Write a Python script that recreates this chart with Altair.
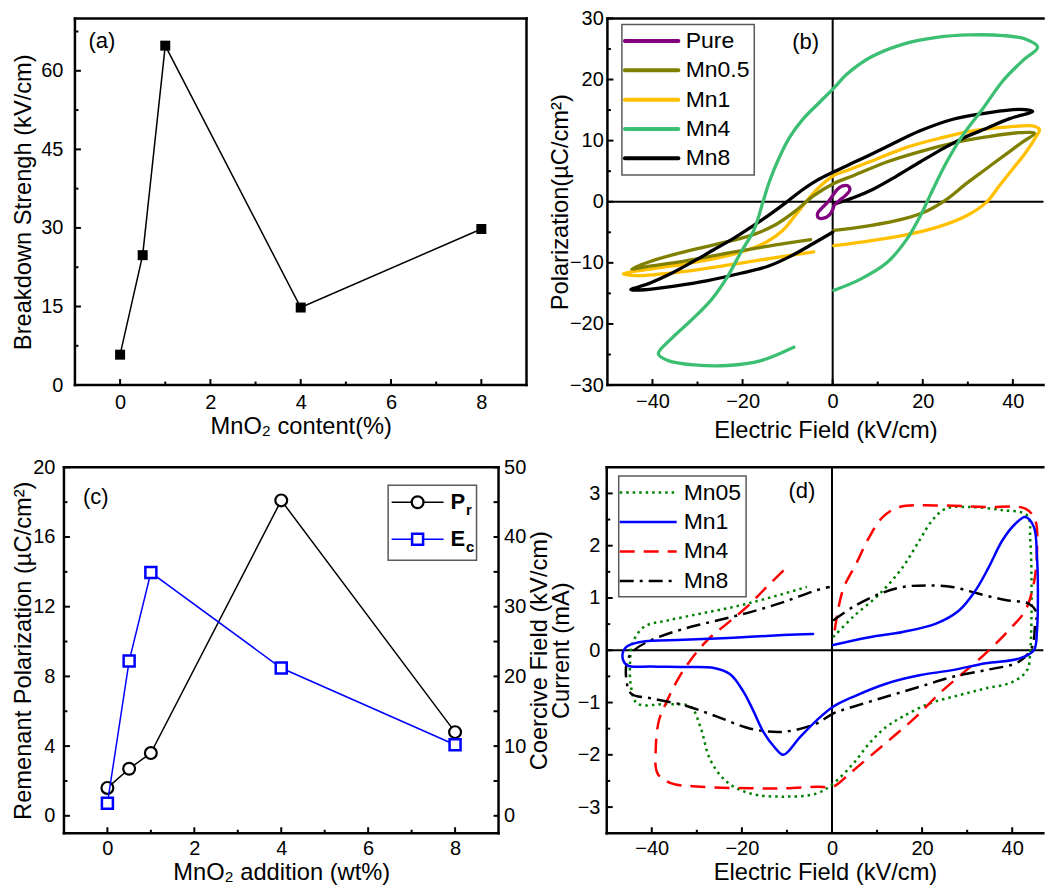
import altair as alt
import pandas as pd

FONT = "Liberation Sans"
LAB = 20
TIT = 23.7
LEG = 23

# ---------------- (a) breakdown strength ----------------
A_MNO2 = [0, 0.5, 1, 4, 8]
A_BDS = [5.8, 24.8, 64.8, 14.8, 29.8]

# ---------------- (b) P-E loops ----------------
B_NAMES = ["Pure", "Mn0.5", "Mn1", "Mn4", "Mn8"]
B_COLORS = ["#800080", "#808000", "#FFC000", "#3CBF72", "#000000"]

PURE_E = [0.3, 1.5, 2.8, 3.8, 3.4, 2.2, 1.0, 0.0, -1.0, -2.2, -3.3, -3.2, -2.0, -0.8, 0.0, 0.3]
PURE_P = [-0.6, 0.2, 1.0, 1.9, 2.6, 2.6, 2.0, 1.0, 0.0, -0.9, -1.8, -2.6, -2.7, -2.2, -1.3, -0.6]

MN05_E = [0.25, 8.3, 15.7, 20.9, 25.3, 29.7, 34.1, 38.5, 42.2, 44.8, 41.5, 34.1, 26.7, 19.4, 12.0,
          4.7, 0.25, -4.2, -8.6, -13.0, -18.1, -25.5, -32.9, -40.2, -44.6, -40.2, -32.9, -21.8, -13.0, -4.9]
MN05_P = [-4.7, -3.9, -2.8, -1.5, 0.4, 3.0, 5.4, 7.8, 9.8, 11.2, 11.3, 10.6, 9.6, 8.2, 6.5,
          4.3, 3.0, 1.0, -1.7, -3.9, -5.5, -6.9, -8.2, -9.7, -11.0, -10.5, -9.7, -8.2, -7.1, -6.2]

MN1_E = [0.25, 8.3, 15.7, 23.1, 29.7, 34.1, 37.0, 40.0, 42.9, 45.1, 45.9, 44.4, 38.5, 31.1, 23.8, 16.4,
         9.1, 3.2, 0.25, -3.4, -6.0, -8.6, -11.1, -14.5, -18.9, -25.5, -32.9, -40.2, -46.5, -43.9,
         -32.9, -21.8, -12.3, -4.2]
MN1_P = [-7.2, -6.4, -5.5, -4.2, -2.3, -0.1, 2.6, 5.4, 8.1, 10.6, 11.8, 12.4, 12.2, 11.6, 10.4, 8.9,
         6.8, 5.1, 4.3, 2.1, -0.1, -2.5, -4.7, -6.5, -7.9, -9.2, -10.2, -11.0, -11.8, -12.1,
         -11.4, -10.2, -9.1, -8.2]

MN4_E = [0.25, 6.1, 12.0, 16.4, 19.4, 21.6, 25.3, 28.9, 33.4, 37.8, 42.2, 45.5, 42.9, 37.8, 30.4, 23.1,
         15.7, 8.3, 3.2, 0.25, -3.0, -6.5, -9.5, -12.0, -14.0, -15.5, -17.4, -20.4, -23.3, -27.0,
         -31.4, -35.8, -38.7, -36.5, -30.7, -23.3, -15.9, -8.6]
MN4_P = [-14.5, -12.7, -10.0, -6.2, -2.4, 1.0, 6.5, 10.9, 15.3, 19.8, 23.1, 25.3, 26.6, 27.2, 27.3, 26.9,
         25.8, 23.6, 20.9, 18.6, 16.2, 13.6, 10.6, 7.0, 3.4, -0.1, -4.5, -8.3, -12.2, -16.1,
         -19.4, -22.4, -24.9, -26.0, -26.7, -26.8, -26.0, -23.8]

MN8_E = [0.25, 4.7, 9.1, 14.2, 19.4, 24.5, 28.9, 34.1, 39.3, 44.4, 41.5, 34.1, 26.7, 19.4, 12.0, 6.1,
         0.25, -3.5, -7.0, -10.3, -14.0, -18.0, -22.0, -26.5, -31.0, -36.0, -40.5, -44.8, -41.7,
         -35.1, -27.7, -20.4, -14.5, -9.3, -4.2, 0.0]
MN8_P = [-0.4, 0.7, 2.1, 4.2, 6.5, 8.7, 10.4, 12.0, 13.6, 14.8, 15.1, 14.5, 13.5, 11.6, 9.0, 6.9,
         4.9, 3.5, 1.8, -0.1, -2.1, -4.1, -6.0, -7.9, -9.8, -11.8, -13.3, -14.4, -14.4,
         -13.8, -12.9, -11.7, -10.6, -8.9, -6.8, -5.0]

# ---------------- (c) Pr and Ec ----------------
C_MNO2 = [0, 0.5, 1, 4, 8]
C_PR = [1.6, 2.7, 3.6, 18.1, 4.8]
C_EC = [1.8, 22.2, 34.9, 21.2, 10.2]

# ---------------- (d) I-E loops ----------------
D_NAMES = ["Mn05", "Mn1", "Mn4", "Mn8"]
D_COLORS = ["#008000", "#0000FF", "#FF0000", "#000000"]

D05_E = [0.25, 4.7, 10.6, 15.7, 19.4, 22.3, 25.3, 30.4, 37.8, 43.3, 44.0, 44.3, 44.0, 43.3, 40.0, 34.1,
         28.2, 21.6, 15.7, 12.0, 8.3, 4.7, 0.25, -3.4, -10.8, -18.1, -23.3, -27.0, -29.2, -31.4,
         -36.5, -43.2, -44.6, -44.8, -44.3, -41.7, -36.5, -29.2, -21.8, -14.5, -5.6]
D05_I = [0.25, 0.64, 1.08, 1.59, 2.10, 2.49, 2.71, 2.74, 2.68, 2.58, 2.10, 1.15, 0.0, -0.38, -0.61, -0.73,
         -0.86, -1.02, -1.27, -1.47, -1.78, -2.17, -2.55, -2.74, -2.80, -2.74, -2.52, -2.10, -1.47, -1.08,
         -1.03, -1.02, -0.70, -0.19, 0.13, 0.45, 0.57, 0.70, 0.83, 0.99, 1.21]

D1_E = [0.25, 8.3, 15.7, 23.1, 28.2, 31.9, 34.8, 37.8, 40.7, 42.9, 44.8, 45.5, 45.7, 45.5, 44.8, 41.5,
        34.1, 26.7, 19.4, 12.0, 4.7, 0.25, -3.4, -7.1, -10.8, -12.8, -15.3, -17.5, -19.6, -22.6,
        -26.2, -32.9, -40.2, -45.4, -46.5, -45.7, -42.4, -32.9, -21.8, -10.8, -4.2]
D1_I = [0.10, 0.25, 0.35, 0.51, 0.76, 1.15, 1.59, 2.10, 2.42, 2.55, 2.36, 1.78, 1.15, 0.38, 0.0, -0.16,
        -0.25, -0.38, -0.48, -0.64, -0.89, -1.08, -1.34, -1.66, -2.0, -1.85, -1.55, -1.15, -0.8, -0.46,
        -0.34, -0.32, -0.31, -0.29, -0.13, 0.06, 0.16, 0.20, 0.24, 0.29, 0.31]

D4_E = [0.6, 2.4, 5.4, 8.3, 11.3, 15.0, 23.1, 34.1, 42.9, 45.1, 45.5, 44.8, 42.9, 39.2, 34.1, 28.9,
        23.8, 18.7, 13.5, 8.3, 3.9, 0.25, -3.4, -10.8, -18.1, -29.2, -35.8, -38.7, -39.1, -38.4,
        -36.9, -34.3, -31.4, -27.7, -23.3, -18.9, -14.5, -10.0]
D4_I = [0.38, 1.15, 1.66, 2.17, 2.55, 2.74, 2.77, 2.74, 2.71, 2.49, 1.91, 1.28, 0.76, 0.38, -0.06, -0.45,
        -0.83, -1.27, -1.66, -2.04, -2.36, -2.61, -2.61, -2.64, -2.64, -2.61, -2.54, -2.36, -1.85, -1.34,
        -1.02, -0.57, -0.19, 0.19, 0.51, 0.83, 1.21, 1.59]

D8_E = [0.25, 4.7, 10.6, 15.7, 20.9, 26.7, 32.6, 38.5, 43.7, 45.5, 45.1, 44.4, 41.5, 34.1, 26.7, 19.4,
        12.0, 4.7, 0.25, -3.4, -10.8, -18.1, -25.5, -32.9, -40.2, -44.6, -45.7, -45.4, -43.9,
        -40.2, -32.9, -25.5, -18.1, -10.8, -3.4, -0.5]
D8_I = [0.57, 0.83, 1.08, 1.21, 1.24, 1.21, 1.08, 0.96, 0.89, 0.70, 0.51, 0.06, -0.22, -0.38, -0.51, -0.70,
        -0.89, -1.08, -1.21, -1.40, -1.56, -1.50, -1.27, -1.05, -0.92, -0.83, -0.51, -0.19, 0.0,
        0.19, 0.41, 0.57, 0.73, 0.92, 1.15, 1.21]

# ---------------- tick values ----------------
A_XT, A_XM = [0, 2, 4, 6, 8], [1, 3, 5, 7]
A_YT, A_YM = [0, 15, 30, 45, 60], [7.5, 22.5, 37.5, 52.5, 67.5]
EF_T, EF_M = [-40, -20, 0, 20, 40], [-30, -10, 10, 30]
B_YT, B_YM = [-30, -20, -10, 0, 10, 20, 30], [-25, -15, -5, 5, 15, 25]
C_YT, C_YM = [0, 4, 8, 12, 16, 20], [2, 6, 10, 14, 18]
C_Y2T, C_Y2M = [0, 10, 20, 30, 40, 50], [5, 15, 25, 35, 45]
D_YT, D_YM = [-3, -2, -1, 0, 1, 2, 3], [-2.5, -1.5, -0.5, 0.5, 1.5, 2.5]

ONE = pd.DataFrame({"k": [0]})


def sc(lo, hi):
    return alt.Scale(domain=[lo, hi], nice=False, zero=False)


def ax(title, values, lp, tp, **kw):
    return alt.Axis(title=title, values=values, grid=False, ticks=False, tickSize=0, domain=False,
                    labelFont=FONT, labelFontSize=LAB, labelColor="black", labelPadding=lp,
                    labelFlush=False, labelOverlap=False,
                    titleFont=FONT, titleFontSize=TIT, titleColor="black",
                    titleFontWeight="normal", titlePadding=tp, **kw)


def frame(x0, W, H, right=True):
    base = alt.Chart(ONE).mark_rule(color="black", strokeWidth=2.5, strokeCap="square")
    parts = [base.encode(x=alt.value(x0), x2=alt.value(W), y=alt.value(0)),
             base.encode(x=alt.value(x0), x2=alt.value(W), y=alt.value(H)),
             base.encode(x=alt.value(x0), y=alt.value(0), y2=alt.value(H))]
    if right:
        parts.append(base.encode(x=alt.value(W), y=alt.value(0), y2=alt.value(H)))
    return parts


def xtick(vals, scale, xaxis, H, L):
    return alt.Chart(pd.DataFrame({"t": vals})).mark_rule(color="black", strokeWidth=2).encode(
        x=alt.X("t:Q", scale=scale, axis=xaxis), y=alt.value(H - L), y2=alt.value(H))


def ytick(vals, scale, yaxis, x1, x2):
    return alt.Chart(pd.DataFrame({"t": vals})).mark_rule(color="black", strokeWidth=2).encode(
        y=alt.Y("t:Q", scale=scale, axis=yaxis), x=alt.value(x1), x2=alt.value(x2))


def txt(text, x, y, size=LEG, weight="normal"):
    return alt.Chart(ONE).mark_text(text=text, font=FONT, fontSize=size, fontWeight=weight,
                                    align="left", baseline="middle", color="black").encode(
        x=alt.value(x), y=alt.value(y))


def box(x1, x2, y1, y2):
    return alt.Chart(ONE).mark_rect(fill="white", stroke="#5a5a5a", strokeWidth=1.5).encode(
        x=alt.value(x1), x2=alt.value(x2), y=alt.value(y1), y2=alt.value(y2))


def seg(x1, x2, y, color, width, dash=None, cap="round"):
    kw = dict(color=color, strokeWidth=width, strokeCap=cap)
    if dash:
        kw["strokeDash"] = dash
    return alt.Chart(ONE).mark_rule(**kw).encode(x=alt.value(x1), x2=alt.value(x2), y=alt.value(y))


def curve(E, V, xs, ys, xaxis, yaxis, color, width, dash=None):
    df = pd.DataFrame({"E": E, "V": V, "i": list(range(len(E)))})
    kw = dict(color=color, strokeWidth=width, strokeJoin="round", interpolate="catmull-rom",
              strokeCap="round" if not dash else "butt")
    if dash:
        kw["strokeDash"] = dash
    return alt.Chart(df).mark_line(**kw).encode(
        x=alt.X("E:Q", scale=xs, axis=xaxis), y=alt.Y("V:Q", scale=ys, axis=yaxis), order="i:Q")


def zero_lines(xs, ys, xaxis, yaxis):
    z = pd.DataFrame({"z": [0]})
    return [alt.Chart(z).mark_rule(color="black", strokeWidth=2).encode(x=alt.X("z:Q", scale=xs, axis=xaxis)),
            alt.Chart(z).mark_rule(color="black", strokeWidth=2).encode(y=alt.Y("z:Q", scale=ys, axis=yaxis))]


# ======================= panel (a) =======================
# the view starts 11 px left of the drawn frame so that rows (a)/(c) keep the
# reference's different left edges inside one concat layout
A_OFF = 11
AW, AH = 452 + A_OFF, 367
axs, ays = sc(-1 - A_OFF / 45.2, 9), sc(0, 70)
a_xax = ax("MnO₂ content(%)", A_XT, 7.7, 1.7, titleX=A_OFF + 226)
a_yax = ax("Breakdown Strengh (kV/cm)", A_YT, 12, 5.3, offset=-A_OFF)
dfa = pd.DataFrame({"x": A_MNO2, "y": A_BDS})
a_line = alt.Chart(dfa).mark_line(color="black", strokeWidth=1.5).encode(
    x=alt.X("x:Q", scale=axs, axis=a_xax), y=alt.Y("y:Q", scale=ays, axis=a_yax))
a_pts = alt.Chart(dfa).mark_square(size=100, color="black", opacity=1).encode(
    x=alt.X("x:Q", scale=axs, axis=a_xax), y=alt.Y("y:Q", scale=ays, axis=a_yax))
panel_a = alt.layer(
    a_line, a_pts,
    xtick(A_XT, axs, a_xax, AH, 6), xtick(A_XM, axs, a_xax, AH, 3.5),
    ytick(A_YT, ays, a_yax, A_OFF, A_OFF + 6), ytick(A_YM, ays, a_yax, A_OFF, A_OFF + 3.5),
    *frame(A_OFF, AW, AH),
    txt("(a)", A_OFF + 13.5, 23, 22),
).properties(width=AW, height=AH)

# ======================= panel (b) =======================
BW, BH = 436.5, 367
bxs, bys = sc(-50, 46.8), sc(-30, 30)
b_xax = ax("Electric Field (kV/cm)", EF_T, 6.8, 6.2)
b_yax = ax("Polarization(µC/cm²)", B_YT, 4.1, -2.9)
b_series = {
    "Pure": (PURE_E, PURE_P), "Mn0.5": (MN05_E, MN05_P), "Mn1": (MN1_E, MN1_P),
    "Mn4": (MN4_E, MN4_P), "Mn8": (MN8_E, MN8_P)}
b_col = dict(zip(B_NAMES, B_COLORS))
b_layers = zero_lines(bxs, bys, b_xax, b_yax)
for name in ["Mn1", "Mn0.5", "Mn8", "Mn4", "Pure"]:
    E, P = b_series[name]
    b_layers.append(curve(E, P, bxs, bys, b_xax, b_yax, b_col[name], 3.3))
b_layers += [xtick(EF_T, bxs, b_xax, BH, 6), xtick(EF_M, bxs, b_xax, BH, 3.5),
             ytick(B_YT, bys, b_yax, 0, 6), ytick(B_YM, bys, b_yax, 0, 3.5)]
b_layers += frame(0, BW, BH, right=False)
b_layers.append(box(14.5, 147, 6, 156.7))
for k, name in enumerate(B_NAMES):
    yy = 22.7 + k * 29.3
    b_layers.append(seg(17.5, 71, yy, b_col[name], 4))
    b_layers.append(txt(name, 78.3, yy))
b_layers.append(txt("(b)", 185, 24, 22))
panel_b = alt.layer(*b_layers).properties(width=BW, height=BH)

# ======================= panel (c) =======================
CW, CH = 435, 366.3
cxs, cyl, cyr = sc(-1, 9), sc(-1, 20), sc(-2.5, 50)
c_xax = ax("MnO₂ addition (wt%)", A_XT, 5.5, 1.5)
c_yax = ax("Remenant Polarization (µC/cm²)", C_YT, 9, -2.7)
c_y2ax = ax("Coercive Field (kV/cm)", C_Y2T, 5, 1.3, orient="right",
            titleAngle=270, titleBaseline="top")
dfc = pd.DataFrame({"x": C_MNO2, "pr": C_PR, "ec": C_EC})
pr_line = alt.Chart(dfc).mark_line(color="black", strokeWidth=1.5).encode(
    x=alt.X("x:Q", scale=cxs, axis=c_xax), y=alt.Y("pr:Q", scale=cyl, axis=c_yax))
pr_pts = alt.Chart(dfc).mark_point(shape="circle", size=140, filled=True, fill="white",
                                   stroke="black", strokeWidth=2.2, opacity=1).encode(
    x=alt.X("x:Q", scale=cxs, axis=c_xax), y=alt.Y("pr:Q", scale=cyl, axis=c_yax))
left_group = alt.layer(
    pr_line, pr_pts,
    xtick(A_XT, cxs, c_xax, CH, 6), xtick(A_XM, cxs, c_xax, CH, 3.5),
    ytick(C_YT, cyl, c_yax, 0, 6), ytick(C_YM, cyl, c_yax, 0, 3.5),
    *frame(0, CW, CH),
    box(324.5, 413, 18, 93),
    seg(328, 380, 35, "black", 1.5, cap="butt"),
    alt.Chart(ONE).mark_point(shape="circle", size=140, filled=True, fill="white", stroke="black",
                              strokeWidth=2.2, opacity=1).encode(x=alt.value(354), y=alt.value(35)),
    txt("P", 387, 35, 22, "bold"), txt("r", 402.5, 43, 15, "bold"),
    seg(328, 380, 72, "#0000FF", 1.5, cap="butt"),
    alt.Chart(ONE).mark_point(shape="square", size=121, filled=True, fill="white", stroke="#0000FF",
                              strokeWidth=2.5, opacity=1).encode(x=alt.value(354), y=alt.value(72)),
    txt("E", 387, 72, 22, "bold"), txt("c", 402.5, 80, 15, "bold"),
    txt("(c)", 19, 29.5, 22),
)
ec_line = alt.Chart(dfc).mark_line(color="#0000FF", strokeWidth=1.5).encode(
    x=alt.X("x:Q", scale=cxs, axis=c_xax), y=alt.Y("ec:Q", scale=cyr, axis=c_y2ax))
ec_pts = alt.Chart(dfc).mark_point(shape="square", size=121, filled=True, fill="white",
                                   stroke="#0000FF", strokeWidth=2.5, opacity=1).encode(
    x=alt.X("x:Q", scale=cxs, axis=c_xax), y=alt.Y("ec:Q", scale=cyr, axis=c_y2ax))
right_group = alt.layer(ec_line, ec_pts,
                        ytick(C_Y2T + C_Y2M, cyr, c_y2ax, CW - 5, CW))
panel_c = alt.layer(left_group, right_group).resolve_scale(y="independent").properties(
    width=CW, height=CH)

# ======================= panel (d) =======================
DW, DH = 437, 366.3
dxs, dys = sc(-50, 46.9), sc(-3.5, 3.5)
d_xax = ax("Electric Field (kV/cm)", EF_T, 5.5, 1.5)
d_yax = ax("Current (mA)", D_YT, 6.8, 4)
d_series = {"Mn05": (D05_E, D05_I), "Mn1": (D1_E, D1_I), "Mn4": (D4_E, D4_I), "Mn8": (D8_E, D8_I)}
d_col = dict(zip(D_NAMES, D_COLORS))
d_dash = {"Mn05": [2.5, 4], "Mn1": None, "Mn4": [15, 9], "Mn8": [14, 6, 3, 6]}
d_layers = zero_lines(dxs, dys, d_xax, d_yax)
for name in ["Mn05", "Mn4", "Mn8", "Mn1"]:
    E, I = d_series[name]
    d_layers.append(curve(E, I, dxs, dys, d_xax, d_yax, d_col[name], 2.5, d_dash[name]))
d_layers += [xtick(EF_T, dxs, d_xax, DH, 6), xtick(EF_M, dxs, d_xax, DH, 3.5),
             ytick(D_YT, dys, d_yax, 0, 6), ytick(D_YM, dys, d_yax, 0, 3.5)]
d_layers += frame(0, DW, DH, right=False)
d_layers.append(box(12, 139.5, 8.7, 129.7))
for k, name in enumerate(D_NAMES):
    yy = 25.3 + k * 29.5
    d_layers.append(seg(13, 70, yy, d_col[name], 2.5, d_dash[name], cap="butt"))
    d_layers.append(txt(name, 77, yy))
d_layers.append(txt("(d)", 182, 24, 22))
panel_d = alt.layer(*d_layers).properties(width=DW, height=DH)

# ======================= layout =======================
row1 = alt.hconcat(panel_a, panel_b, spacing=81, bounds="flush")
row2 = alt.hconcat(panel_c, panel_d, spacing=108.3, bounds="flush")
chart = alt.vconcat(row1, row2, spacing=15.3).properties(
    padding={"left": 3, "top": 0, "right": 0, "bottom": 0}
).configure_view(stroke=None)

chart.save("out.html", embed_options={"renderer": "svg", "actions": False})
